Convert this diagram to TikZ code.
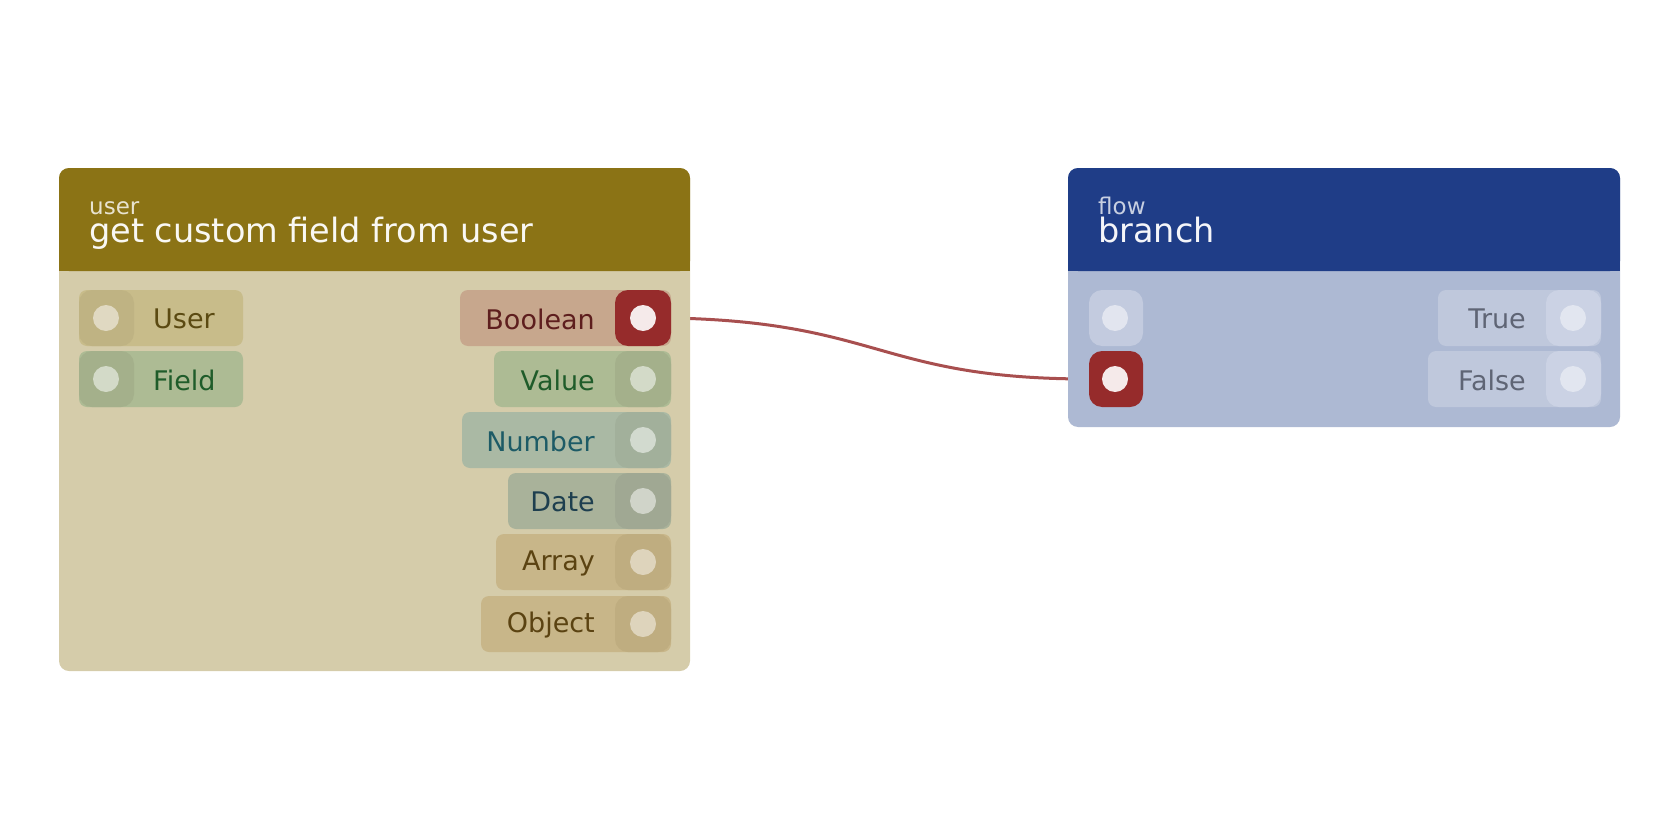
\documentclass[tikz,border=0pt]{standalone}
\usepackage{fontspec}
\setmainfont{DejaVu Sans}
\definecolor{olive}{HTML}{8B7315}
\definecolor{obody}{HTML}{D5CCAA}
\definecolor{navy}{HTML}{1F3D87}
\definecolor{bbody}{HTML}{ADB9D3}
\definecolor{wire}{HTML}{A84F4F}
\definecolor{redsock}{HTML}{962B2B}
\tikzset{
 pill/.style={fill=#1, rounded corners=8pt},
 sock/.style={fill=#1, rounded corners=13pt},
 lbl/.style={font=\fontsize{27}{27}\selectfont, inner sep=0pt},
 dot/.style={circle, minimum size=26pt, inner sep=0pt, fill=#1},
}
\newcommand\setcols[4]{\definecolor{cp}{HTML}{#1}\definecolor{cs}{HTML}{#2}\definecolor{cd}{HTML}{#3}\definecolor{ct}{HTML}{#4}}
\begin{document}
\begin{tikzpicture}[x=1pt,y=-1pt]
\useasboundingbox (0,0) rectangle (1680,840);
% wire (behind)
\coordinate (wa) at (671,318);
\coordinate (wb) at (1089,379);
\draw[wire, line width=3pt] (wa) .. controls (880,322) and (880,379) .. (wb);
\draw[wire!40!obody, line width=3pt] (643,318) -- (wa);
\draw[wire!40!bbody, line width=3pt] (wb) -- (1115,379);
% left node
\fill[obody, rounded corners=10pt] (59,168) rectangle (690,671);
\fill[olive, rounded corners=10pt] (59,168) rectangle (690,271);
\fill[olive] (59,250) rectangle (690,271);
\node[anchor=base west, text=white!80!olive, font=\fontsize{23}{23}\selectfont, inner sep=0pt] (t1) at (89,214) {user};
\node[anchor=base west, text=white!95!olive, font=\fontsize{33.5}{33.5}\selectfont, inner sep=0pt] (t2) at (89,242) {get custom field from user};
% inputs
\foreach \n/\y/\pc/\sc/\dc/\tc in {User/318/C8BC8A/BFB383/E0D9C2/5B4A12, Field/379/ADBB94/A4B08B/D3DAC8/1F5C2A}{
 \setcols{\pc}{\sc}{\dc}{\tc}
 \fill[pill=cp] (79,\y-28) rectangle (243,\y+28);
 \fill[sock=cs] (79,\y-28) rectangle (134,\y+28);
 \node[dot=cd] (i\n) at (106,\y) {};
 \node[lbl, anchor=west, text=ct] (l\n) at (153,\y+1) {\n};
}
% outputs
\foreach \n/\x/\y/\pc/\sc/\dc/\tc in {Boolean/460/318/C7A78D/962B2B/F5EAEA/5E1E1E, Value/494/379/ADBB94/A4B08B/D3DAC8/1F5C2A, Number/462/440/AAB9A4/A2B09B/D2DACF/1D5B66, Date/508/501/A9B29A/A0A893/D0D4C9/1E3F4F, Array/496/562/C8B689/BFAD80/DED4BC/5B4312, Object/481/624/C8B689/BFAD80/DED4BC/5B4312}{
 \setcols{\pc}{\sc}{\dc}{\tc}
 \fill[pill=cp] (\x,\y-28) rectangle (671,\y+28);
 \fill[sock=cs] (615,\y-28) rectangle (671,\y+28);
 \node[dot=cd] (o\n) at (643,\y) {};
 \node[lbl, anchor=east, text=ct] (m\n) at (595,\y+1) {\n};
}
% right node
\fill[bbody, rounded corners=10pt] (1068,168) rectangle (1620,427);
\fill[navy, rounded corners=10pt] (1068,168) rectangle (1620,271);
\fill[navy] (1068,250) rectangle (1620,271);
\node[anchor=base west, text=white!75!navy, font=\fontsize{23}{23}\selectfont, inner sep=0pt] (t3) at (1098,214) {flow};
\node[anchor=base west, text=white!95!navy, font=\fontsize{33.5}{33.5}\selectfont, inner sep=0pt] (t4) at (1098,242) {branch};
\setcols{C3CBDF}{962B2B}{E2E5EF}{F5EAEA}
\fill[sock=cp] (1089,290) rectangle (1143,346);
\node[dot=cd] (iA) at (1115,318) {};
\fill[sock=redsock] (1089,351) rectangle (1143,407);
\node[dot=ct] (iB) at (1115,379) {};
\setcols{BFC8DC}{CBD2E4}{E2E6F0}{5F6575}
\foreach \n/\x/\y in {True/1438/318, False/1428/379}{
 \fill[pill=cp] (\x,\y-28) rectangle (1601,\y+28);
 \fill[sock=cs] (1546,\y-28) rectangle (1601,\y+28);
 \node[dot=cd] (p\n) at (1573,\y) {};
 \node[lbl, anchor=east, text=ct] (q\n) at (1526,\y+1) {\n};
}
\end{tikzpicture}
\end{document}
